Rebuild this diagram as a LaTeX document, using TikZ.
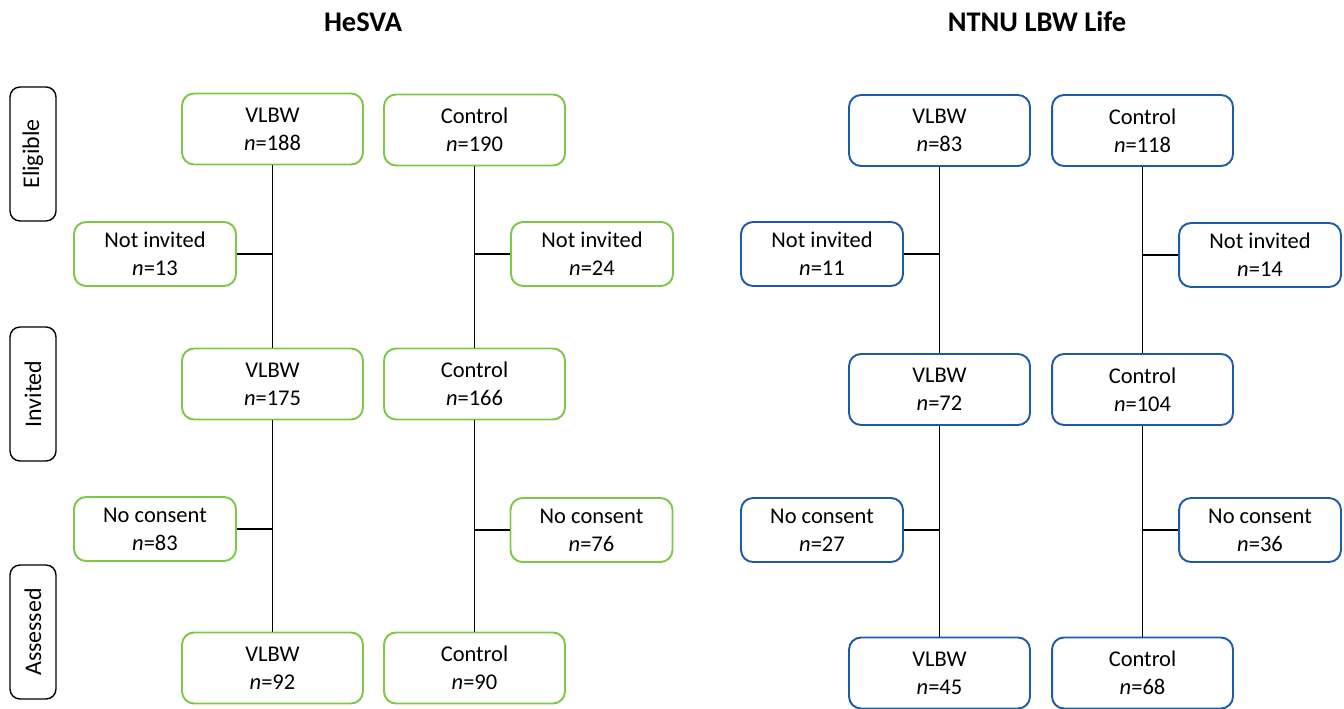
\documentclass[tikz,border=0pt]{standalone}
\usepackage{fontspec}
\setmainfont{Carlito}
\definecolor{hesvagreen}{RGB}{125,200,70}
\definecolor{ntnublue}{RGB}{30,90,170}
\tikzset{
    stage/.style = {draw, rounded corners = 0.2cm, line width = 0.8pt, minimum width = 2.68cm, minimum height = 0.92cm, rotate = 90, font = \fontsize{13.6}{16}\selectfont},
    group/.style = {draw, rounded corners = 0.24cm, line width = 1.1pt, align = center, minimum width = 3.62cm, minimum height = 1.42cm, font = \fontsize{12.8}{15.9}\selectfont},
    drop/.style = {group, minimum width = 3.24cm, minimum height = 1.28cm},
    study/.style = {font = \fontsize{16.2}{18}\selectfont\bfseries},
    link/.style = {line width = 0.9pt}
}
\begin{document}
\begin{tikzpicture}[x = 0.02cm, y = -0.02cm]
    \useasboundingbox (0, 0) rectangle (1344, 709);
    % Study names
    \node [study] (thesva) at (363, 22) {HeSVA};
    \node [study] (tntnu) at (1037, 22) {NTNU LBW Life};
    % Stages
    \node [stage] (seli) at (33, 154) {Eligible};
    \node [stage] (sinv) at (33, 394) {Invited};
    \node [stage] (sass) at (33, 632) {Assessed};
    \begin{scope}[every node/.append style = {hesvagreen, text = black}]     % HeSVA
        \node [group] (hv1) at (272.5, 129) {VLBW\\\textit{n}=188};
        \node [group] (hc1) at (474.5, 130) {Control\\\textit{n}=190};
        \node [drop] (hni1) at (155, 254) {Not invited\\\textit{n}=13};
        \node [drop] (hni2) at (592, 254) {Not invited\\\textit{n}=24};
        \node [group] (hv2) at (272.5, 384) {VLBW\\\textit{n}=175};
        \node [group] (hc2) at (474.5, 384) {Control\\\textit{n}=166};
        \node [drop] (hnc1) at (155, 529) {No consent\\\textit{n}=83};
        \node [drop] (hnc2) at (591.5, 530) {No consent\\\textit{n}=76};
        \node [group] (hv3) at (272.5, 668) {VLBW\\\textit{n}=92};
        \node [group] (hc3) at (474.5, 668) {Control\\\textit{n}=90};
    \end{scope}
    \begin{scope}[every node/.append style = {ntnublue, text = black}]     % NTNU LBW Life
        \node [group] (nv1) at (939.5, 130.5) {VLBW\\\textit{n}=83};
        \node [group] (nc1) at (1142.5, 130.5) {Control\\\textit{n}=118};
        \node [drop] (nni1) at (822, 254) {Not invited\\\textit{n}=11};
        \node [drop] (nni2) at (1260, 255) {Not invited\\\textit{n}=14};
        \node [group] (nv2) at (939.5, 389.5) {VLBW\\\textit{n}=72};
        \node [group] (nc2) at (1142.5, 389.5) {Control\\\textit{n}=104};
        \node [drop] (nnc1) at (822, 530) {No consent\\\textit{n}=27};
        \node [drop] (nnc2) at (1260, 530) {No consent\\\textit{n}=36};
        \node [group] (nv3) at (939.5, 673) {VLBW\\\textit{n}=45};
        \node [group] (nc3) at (1142.5, 673) {Control\\\textit{n}=68};
    \end{scope}
    % Flow down each arm
    \foreach \arm in {hv, hc, nv, nc} {
        \draw [link] (\arm1) -- (\arm2) -- (\arm3);
    }
    % Drop-outs
    \foreach \out/\arm in {hni1/hv1, hnc1/hv2, hni2/hc1, hnc2/hc2, nni1/nv1, nnc1/nv2, nni2/nc1, nnc2/nc2} {
        \draw [link] (\out) -- (\out -| \arm);
    }
\end{tikzpicture}
\end{document}
